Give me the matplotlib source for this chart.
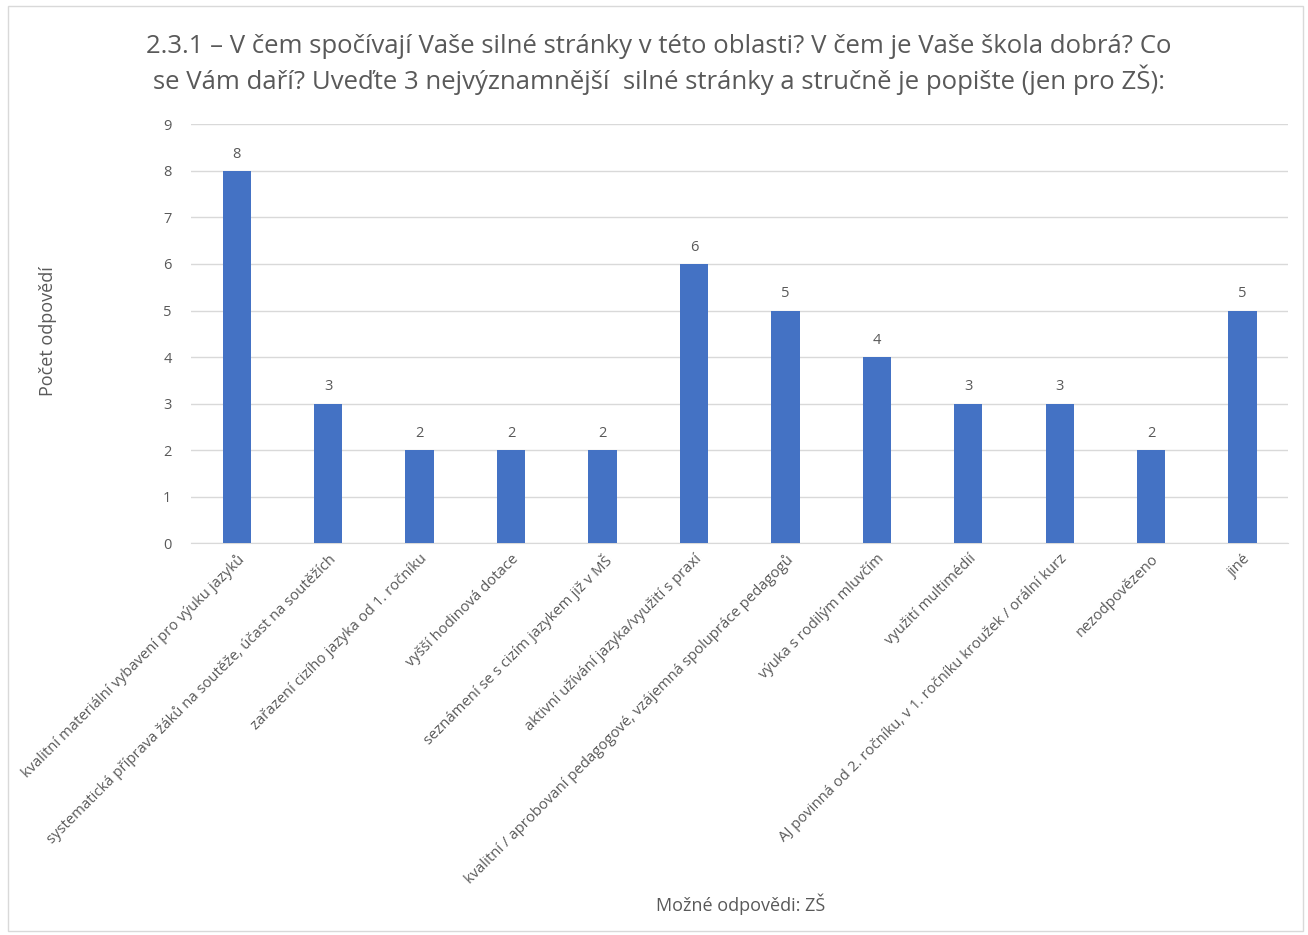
import matplotlib.pyplot as plt
from matplotlib.patches import Rectangle

categories = [
    "kvalitní materiální vybavení pro výuku jazyků",
    "systematická příprava žáků na soutěže, účast na soutěžích",
    "zařazení cizího jazyka od 1. ročníku",
    "vyšší hodinová dotace",
    "seznámení se s cizím jazykem již v MŠ",
    "aktivní užívání jazyka/využití s praxí",
    "kvalitní / aprobovaní pedagogové, vzájemná spolupráce pedagogů",
    "výuka s rodilým mluvčím",
    "využití multimédií",
    "AJ povinná od 2. ročníku, v 1. ročníku kroužek / orální kurz",
    "nezodpovězeno",
    "jiné",
]
values = [8, 3, 2, 2, 2, 6, 5, 4, 3, 3, 2, 5]

title = ("2.3.1 – V čem spočívají Vaše silné stránky v této oblasti? V čem je Vaše škola dobrá? Co\n"
         "se Vám daří? Uveďte 3 nejvýznamnější  silné stránky a stručně je popište (jen pro ZŠ):")

plt.rcParams['font.family'] = ['Open Sans', 'DejaVu Sans']
txt = '#595959'
bar_color = '#4472C4'

fig = plt.figure(figsize=(13.08, 9.35), dpi=100)
fig.patches.append(Rectangle((0.006, 0.004), 0.99, 0.99, transform=fig.transFigure,
                             fill=False, edgecolor='#d9d9d9', linewidth=1))
ax = fig.add_axes([0.146, 0.419, 0.839, 0.448])

x = range(len(categories))
bars = ax.bar(x, values, width=0.31, color=bar_color, zorder=3)
for b, v in zip(bars, values):
    ax.text(b.get_x() + b.get_width() / 2, v + 0.2, str(v), ha='center', va='bottom',
            fontsize=10.5, color=txt)

ax.set_xlim(-0.5, len(categories) - 0.5)
ax.set_ylim(0, 9)
ax.set_yticks(range(10))
ax.yaxis.grid(True, color='#d9d9d9', linewidth=1, zorder=0)
for s in ['top', 'right', 'left']:
    ax.spines[s].set_visible(False)
ax.spines['bottom'].set_color('#d9d9d9')
ax.tick_params(axis='both', length=0, colors=txt, labelsize=10.5)
ax.tick_params(axis='y', pad=14)
ax.tick_params(axis='x', pad=6)
ax.set_xticks(list(x))
ax.set_xticklabels(categories, rotation=45, ha='right', rotation_mode='anchor', fontsize=10.7)

fig.text(0.037, 0.646, 'Počet odpovědí', rotation=90, ha='center', va='center',
         fontsize=13, color=txt)
fig.text(0.566, 0.033, 'Možné odpovědi: ZŠ', ha='center', va='center', fontsize=13, color=txt)
fig.text(0.504, 0.931, title, ha='center', va='center', fontsize=18.5, color=txt,
         linespacing=1.25)

fig.savefig('out.png', dpi=100)
